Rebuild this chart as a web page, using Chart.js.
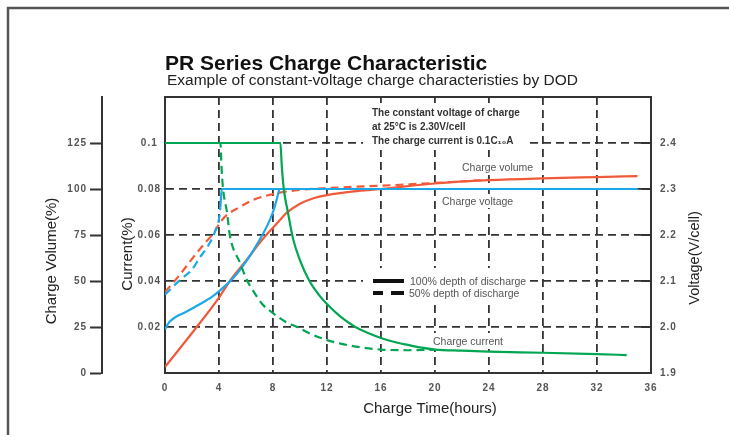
<!DOCTYPE html>
<html>
<head>
<meta charset="utf-8">
<script src="https://cdn.jsdelivr.net/npm/chart.js@4.4.1/dist/chart.umd.min.js"></script>
<style>
  body { margin: 0; background: #fff; }
  #wrap { width: 729px; height: 435px; position: relative; }
</style>
</head>
<body>
<div id="wrap"><canvas id="myChart"></canvas></div>
<script>
// charge current, 100% DOD (C10 A)
var tCur100 = [0, 8.55, 8.65, 8.8, 9.1, 9.5, 10, 10.7, 11.4, 12, 13, 14.1, 15, 16, 17, 18, 19, 20, 22, 24, 28, 32, 34.2];
var cur100 = [0.1, 0.1, 0.09, 0.08, 0.07, 0.058, 0.049, 0.04, 0.034, 0.030, 0.0245, 0.02, 0.0175, 0.0152, 0.0135, 0.0122, 0.011, 0.0102, 0.0097, 0.0093, 0.0088, 0.0082, 0.0078];
// charge current, 50% DOD
var tCur50 = [0, 4.1, 4.2, 4.3, 4.6, 4.8, 5.55, 6.1, 6.5, 7.2, 8, 9.1, 9.8, 10.5, 12, 13, 14, 16, 18, 20];
var cur50 = [0.1, 0.1, 0.088, 0.08, 0.0696, 0.06, 0.048, 0.04, 0.036, 0.030, 0.026, 0.0217, 0.02, 0.0178, 0.0143, 0.0128, 0.0116, 0.0102, 0.0099, 0.0101];
// charge voltage (V/cell)
var tVolt100 = [0, 0.3, 0.8, 1.5, 2.6, 3.5, 4.1, 5, 5.55, 6.3, 7, 7.6, 8, 8.3, 8.5, 35];
var volt100 = [1.995, 2.01, 2.022, 2.032, 2.05, 2.066, 2.08, 2.105, 2.124, 2.155, 2.189, 2.222, 2.25, 2.28, 2.3, 2.3];
var tVolt50 = [0, 0.5, 1.1, 2, 2.6, 3.1, 3.55, 3.8, 4.0, 4.1, 4.2, 35];
var volt50 = [2.07, 2.085, 2.102, 2.125, 2.152, 2.172, 2.196, 2.215, 2.235, 2.26, 2.3, 2.3];
// charge volume (%)
var tVol100 = [0, 2.35, 4, 4.8, 6, 7, 7.5, 8, 8.5, 9, 10, 11, 12, 14, 16, 20, 24, 28, 32, 35];
var vol100 = [3.3, 25, 41, 50, 61, 70.6, 75, 79, 83, 87, 92, 95, 96.7, 98.7, 100, 103, 104.8, 105.8, 106.5, 107];
var tVol50 = [0, 1, 2, 3, 3.6, 4.1, 4.6, 5.5, 6.5, 8.5, 10, 12, 16, 20, 24];
var vol50 = [44, 52.5, 62, 71, 76, 82, 86, 90, 94, 98, 99.5, 100.5, 101.8, 103.3, 105];

// axis ticks
var timeTicks = [0, 4, 8, 12, 16, 20, 24, 28, 32, 36];
var volumeTicks = [0, 25, 50, 75, 100, 125];
var currentTicks = [0.02, 0.04, 0.06, 0.08, 0.1];
var voltTicks = [1.9, 2.0, 2.1, 2.2, 2.3, 2.4];

var FONT = "'Liberation Sans', Arial, sans-serif";
var GREEN = '#00a651', BLUE = '#1ba8e8', RED = '#f05a3b';
var DASH = [8, 5];

function pts(t, v) {
    var out = [];
    for (var i = 0; i < t.length; i++) out.push({x: t[i], y: v[i]});
    return out;
}
function keepTicks(list) {
    return function(s) {
        s.ticks = list.map(function(v) { return {value: v}; });
    };
}
var tickFont = {family: FONT, size: 10, weight: 'bold'};

var decor = {
    id: 'decor',
    beforeDraw: function(chart) {
        var ctx = chart.ctx;
        ctx.save();
        ctx.strokeStyle = '#555';
        ctx.lineWidth = 2.5;
        ctx.beginPath();
        ctx.moveTo(8, 435); ctx.lineTo(8, 8); ctx.lineTo(729, 8);
        ctx.stroke();
        ctx.restore();
        ctx.letterSpacing = '1px';
    },
    beforeDatasetsDraw: function(chart) {
        var ctx = chart.ctx, a = chart.chartArea;
        ctx.letterSpacing = '0px';
        ctx.save();
        // top border of plot
        ctx.strokeStyle = '#333';
        ctx.lineWidth = 2;
        ctx.beginPath(); ctx.moveTo(a.left, a.top); ctx.lineTo(a.right, a.top); ctx.stroke();
        // inward ticks of the voltage axis
        var sv = chart.scales.yVolt;
        sv.ticks.forEach(function(t) {
            var y = sv.getPixelForValue(t.value);
            ctx.beginPath(); ctx.moveTo(a.right - 10, y); ctx.lineTo(a.right, y); ctx.stroke();
        });
        // white boxes behind the notes
        ctx.fillStyle = '#fff';
        ctx.fillRect(363, 103, 162, 47);
        ctx.fillRect(457, 159, 80, 15);
        ctx.fillRect(437, 194, 80, 14);
        ctx.fillRect(363, 268, 164, 35);
        ctx.fillRect(428, 333, 80, 16);

        ctx.fillStyle = '#333';
        ctx.textAlign = 'left';
        ctx.textBaseline = 'alphabetic';
        ctx.font = 'bold 10px ' + FONT;
        ctx.fillText('The constant voltage of charge', 372, 116);
        ctx.fillText('at 25\u00B0C is 2.30V/cell', 372, 130);
        ctx.fillText('The charge current is 0.1C\u2081\u2080A', 372, 144);

        ctx.fillStyle = '#555';
        ctx.font = '10.5px ' + FONT;
        ctx.fillText('Charge volume', 462, 171);
        ctx.fillText('Charge voltage', 442, 205);
        ctx.fillText('Charge current', 433, 345);
        ctx.fillText('100% depth of discharge', 410, 285);
        ctx.fillText('50% depth of discharge', 409, 297);

        ctx.strokeStyle = '#111';
        ctx.lineWidth = 4;
        ctx.beginPath(); ctx.moveTo(373, 281); ctx.lineTo(404, 281); ctx.stroke();
        ctx.beginPath(); ctx.moveTo(373, 293); ctx.lineTo(383, 293);
        ctx.moveTo(391, 293); ctx.lineTo(404, 293); ctx.stroke();

        // titles
        ctx.fillStyle = '#111';
        ctx.font = 'bold 21px ' + FONT;
        ctx.fillText('PR Series Charge Characteristic', 165, 70);
        ctx.fillStyle = '#222';
        ctx.font = '15.5px ' + FONT;
        ctx.fillText('Example of constant-voltage charge characteristies by DOD', 167, 85);

        ctx.font = '15px ' + FONT;
        ctx.textAlign = 'center';
        ctx.textBaseline = 'middle';
        ctx.fillText('Charge Time(hours)', 430, 409);
        var vt = [['Charge Volume(%)', 52, 261, 15], ['Current(%)', 128, 254, 15], ['Voltage(V/cell)', 695, 258, 14.5]];
        vt.forEach(function(v) {
            ctx.save();
            ctx.translate(v[1], v[2]);
            ctx.rotate(-Math.PI / 2);
            ctx.font = v[3] + 'px ' + FONT;
            ctx.fillText(v[0], 0, 0);
            ctx.restore();
        });
        ctx.restore();
    }
};

var ctx = document.getElementById("myChart");
var chart = new Chart(ctx, {
    type: 'line',
    data: {
        datasets: [
            {label: 'Current 100%', data: pts(tCur100, cur100), yAxisID: 'yCur', borderColor: GREEN},
            {label: 'Current 50%', data: pts(tCur50, cur50), yAxisID: 'yCur', borderColor: GREEN, borderDash: DASH},
            {label: 'Voltage 100%', data: pts(tVolt100, volt100), yAxisID: 'yVolt', borderColor: BLUE},
            {label: 'Voltage 50%', data: pts(tVolt50, volt50), yAxisID: 'yVolt', borderColor: BLUE,
                segment: {borderDash: function(c) { return c.p1.parsed.y < 2.299 ? DASH : undefined; }}},
            {label: 'Volume 100%', data: pts(tVol100, vol100), yAxisID: 'yVol', borderColor: RED},
            {label: 'Volume 50%', data: pts(tVol50, vol50), yAxisID: 'yVol', borderColor: RED, borderDash: DASH}
        ]
    },
    options: {
        responsive: true,
        maintainAspectRatio: false,
        animation: false,
        layout: {padding: {top: 97, left: 0, right: 0, bottom: 0}},
        plugins: {legend: {display: false}, tooltip: {enabled: false}},
        elements: {
            point: {radius: 0},
            line: {borderWidth: 2.2, cubicInterpolationMode: 'monotone', fill: false}
        },
        scales: {
            x: {
                type: 'linear', position: 'bottom', min: 0, max: 36,
                afterFit: function(s) { s.height = 62; },
                afterBuildTicks: keepTicks(timeTicks),
                ticks: {padding: 9, color: '#555', font: tickFont, maxRotation: 0, autoSkip: false},
                grid: {
                    color: function(c) { return (c.tick && (c.tick.value === 0 || c.tick.value === 36)) ? 'rgba(0,0,0,0)' : '#333'; },
                    lineWidth: 1.8, drawTicks: false
                },
                border: {color: '#333', width: 2, dash: DASH}
            },
            yCur: {
                type: 'linear', position: 'left', weight: 0, min: 0, max: 0.12,
                afterFit: function(s) { s.width = 63; },
                afterBuildTicks: keepTicks(currentTicks),
                ticks: {padding: 6, crossAlign: 'center', color: '#555', font: tickFont,
                    callback: function(v) { return String(Math.round(v * 100) / 100); }},
                grid: {color: '#333', lineWidth: 1.8, drawTicks: false},
                border: {color: '#333', width: 2, dash: DASH}
            },
            yVol: {
                type: 'linear', position: 'left', weight: 10, min: 0, max: 150,
                afterFit: function(s) { s.width = 102; },
                afterBuildTicks: keepTicks(volumeTicks),
                ticks: {padding: 3, color: '#555', font: tickFont},
                grid: {drawOnChartArea: false, drawTicks: true, tickLength: 12, tickWidth: 2, tickColor: '#333'},
                border: {color: '#333', width: 2}
            },
            yVolt: {
                type: 'linear', position: 'right', min: 1.9, max: 2.5,
                afterFit: function(s) { s.width = 78; },
                afterBuildTicks: keepTicks(voltTicks),
                ticks: {padding: 9, color: '#555', font: tickFont,
                    callback: function(v) { return v.toFixed(1); }},
                grid: {drawOnChartArea: false, drawTicks: false},
                border: {color: '#333', width: 2}
            }
        }
    },
    plugins: [decor]
});
</script>
</body>
</html>
